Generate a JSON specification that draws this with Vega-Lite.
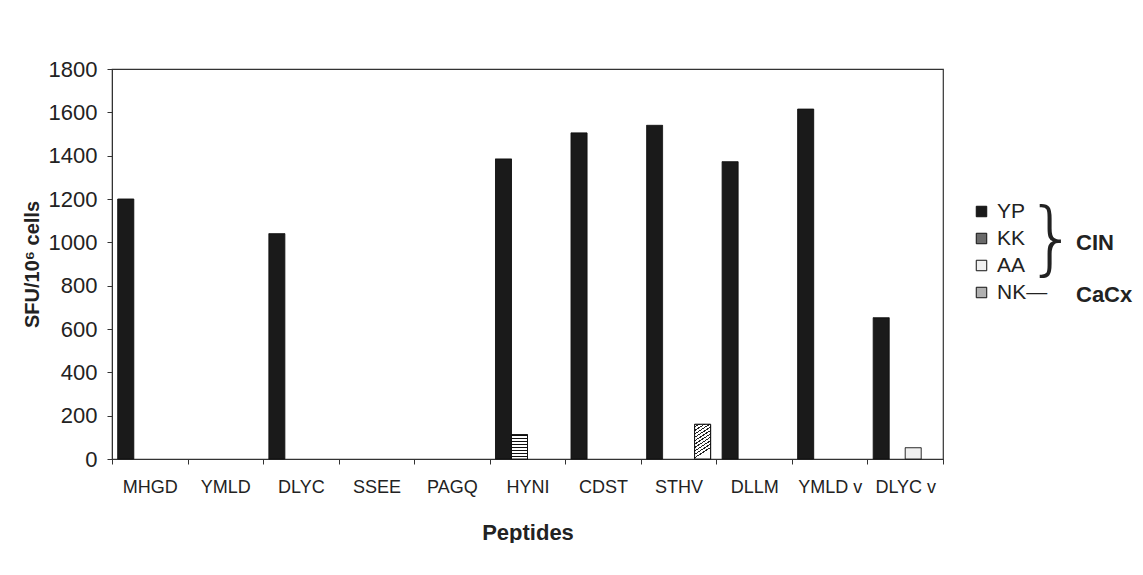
{
  "$schema": "https://vega.github.io/schema/vega-lite/v6.json",
  "width": 831,
  "height": 390,
  "padding": {"left": 22, "top": 58, "right": 0, "bottom": 0},
  "autosize": {"type": "pad"},
  "background": "white",
  "config": {
    "font": "Liberation Sans",
    "view": {"stroke": "#333", "strokeWidth": 1.2},
    "axis": {"domainColor": "#333", "tickColor": "#333", "labelColor": "#222", "titleColor": "#222", "grid": false}
  },
  "data": {
    "values": [
      {"peptide": "MHGD", "series": "YP", "group": "CIN", "sfu": 1200},
      {"peptide": "DLYC", "series": "YP", "group": "CIN", "sfu": 1040},
      {"peptide": "HYNI", "series": "YP", "group": "CIN", "sfu": 1385},
      {"peptide": "HYNI", "series": "KK", "group": "CIN", "sfu": 112},
      {"peptide": "CDST", "series": "YP", "group": "CIN", "sfu": 1505},
      {"peptide": "STHV", "series": "YP", "group": "CIN", "sfu": 1540},
      {"peptide": "STHV", "series": "NK", "group": "CaCx", "sfu": 160},
      {"peptide": "DLLM", "series": "YP", "group": "CIN", "sfu": 1372},
      {"peptide": "YMLD v", "series": "YP", "group": "CIN", "sfu": 1615},
      {"peptide": "DLYC v", "series": "YP", "group": "CIN", "sfu": 652},
      {"peptide": "DLYC v", "series": "AA", "group": "CIN", "sfu": 52}
    ]
  },
  "encoding": {
    "x": {
      "field": "peptide",
      "type": "nominal",
      "sort": ["MHGD", "YMLD", "DLYC", "SSEE", "PAGQ", "HYNI", "CDST", "STHV", "DLLM", "YMLD v", "DLYC v"],
      "scale": {"domain": ["MHGD", "YMLD", "DLYC", "SSEE", "PAGQ", "HYNI", "CDST", "STHV", "DLLM", "YMLD v", "DLYC v"], "paddingInner": 0, "paddingOuter": 0},
      "axis": {
        "title": "Peptides",
        "titleFontSize": 22,
        "titleFontWeight": "bold",
        "titlePadding": 26,
        "labelFontSize": 18,
        "labelAngle": 0,
        "labelPadding": 14,
        "tickSize": 5,
        "tickBand": "extent"
      }
    },
    "xOffset": {
      "field": "series",
      "type": "nominal",
      "scale": {"domain": ["YP", "KK", "AA", "NK"], "paddingInner": 0, "paddingOuter": 0.36}
    },
    "y": {
      "field": "sfu",
      "type": "quantitative",
      "scale": {"domain": [0, 1800], "nice": false},
      "axis": {
        "title": "SFU/10⁶ cells",
        "titleFontSize": 20,
        "titleFontWeight": "bold",
        "titlePadding": 6,
        "labelFontSize": 22,
        "labelPadding": 10,
        "tickSize": 5,
        "format": "d",
        "values": [0, 200, 400, 600, 800, 1000, 1200, 1400, 1600, 1800]
      }
    }
  },
  "layer": [
    {
      "mark": {"type": "bar", "stroke": "#111", "strokeWidth": 1},
      "encoding": {
        "color": {
          "field": "series",
          "type": "nominal",
          "scale": {"domain": ["YP", "KK", "AA", "NK"], "range": ["#1a1a1a", "#6a6a6a", "#f0f0f0", "#b0b0b0"]},
          "legend": {
            "orient": "none",
            "legendX": 859,
            "legendY": 132,
            "title": "}",
            "titleOrient": "right",
            "titleAngle": 0,
            "titleFontSize": 81,
            "titleFontWeight": 200,
            "titleFont": "'DejaVu Sans ExtraLight', 'DejaVu Sans Light', 'DejaVu Sans'",
            "titleColor": "#222",
            "titleAnchor": "start",
            "titleBaseline": "top",
            "titlePadding": -21,
            "labelFontSize": 21,
            "labelColor": "#222",
            "labelExpr": "datum.label == 'NK' ? 'NK—' : datum.label",
            "symbolType": "square",
            "symbolSize": 110,
            "symbolStrokeColor": "#111",
            "symbolStrokeWidth": 1,
            "rowPadding": 5,
            "labelOffset": 5
          }
        },
        "strokeDash": {
          "field": "group",
          "type": "nominal",
          "scale": {"domain": ["CIN", "CaCx"], "range": [[1, 0], [1, 0]]},
          "legend": {
            "orient": "none",
            "legendX": 942,
            "legendY": 163,
            "title": null,
            "labelFontSize": 22,
            "labelFontWeight": "bold",
            "labelColor": "#222",
            "symbolOpacity": 0,
            "symbolSize": 1,
            "rowPadding": 30,
            "labelOffset": 0
          }
        }
      }
    },
    {
      "transform": [{"filter": "datum.series == 'KK'"}],
      "mark": {
        "type": "bar",
        "stroke": "#111",
        "strokeWidth": 1,
        "fill": {
          "gradient": "linear", "x1": 0, "y1": 0, "x2": 0, "y2": 1,
          "stops": [
            {"offset": 0, "color": "#111"}, {"offset": 0.0625, "color": "#111"},
            {"offset": 0.0625, "color": "#fff"}, {"offset": 0.125, "color": "#fff"},
            {"offset": 0.125, "color": "#111"}, {"offset": 0.1875, "color": "#111"},
            {"offset": 0.1875, "color": "#fff"}, {"offset": 0.25, "color": "#fff"},
            {"offset": 0.25, "color": "#111"}, {"offset": 0.3125, "color": "#111"},
            {"offset": 0.3125, "color": "#fff"}, {"offset": 0.375, "color": "#fff"},
            {"offset": 0.375, "color": "#111"}, {"offset": 0.4375, "color": "#111"},
            {"offset": 0.4375, "color": "#fff"}, {"offset": 0.5, "color": "#fff"},
            {"offset": 0.5, "color": "#111"}, {"offset": 0.5625, "color": "#111"},
            {"offset": 0.5625, "color": "#fff"}, {"offset": 0.625, "color": "#fff"},
            {"offset": 0.625, "color": "#111"}, {"offset": 0.6875, "color": "#111"},
            {"offset": 0.6875, "color": "#fff"}, {"offset": 0.75, "color": "#fff"},
            {"offset": 0.75, "color": "#111"}, {"offset": 0.8125, "color": "#111"},
            {"offset": 0.8125, "color": "#fff"}, {"offset": 0.875, "color": "#fff"},
            {"offset": 0.875, "color": "#111"}, {"offset": 0.9375, "color": "#111"},
            {"offset": 0.9375, "color": "#fff"}, {"offset": 1, "color": "#fff"}
          ]
        }
      }
    },
    {
      "transform": [{"filter": "datum.series == 'NK'"}],
      "mark": {
        "type": "bar",
        "stroke": "#111",
        "strokeWidth": 1,
        "fill": {
          "gradient": "linear", "x1": 0, "y1": 0, "x2": 0.3, "y2": 1,
          "stops": [
            {"offset": 0, "color": "#fff"}, {"offset": 0.06, "color": "#fff"},
            {"offset": 0.06, "color": "#222"}, {"offset": 0.09, "color": "#222"},
            {"offset": 0.09, "color": "#fff"}, {"offset": 0.15, "color": "#fff"},
            {"offset": 0.15, "color": "#222"}, {"offset": 0.18, "color": "#222"},
            {"offset": 0.18, "color": "#fff"}, {"offset": 0.24, "color": "#fff"},
            {"offset": 0.24, "color": "#222"}, {"offset": 0.27, "color": "#222"},
            {"offset": 0.27, "color": "#fff"}, {"offset": 0.33, "color": "#fff"},
            {"offset": 0.33, "color": "#222"}, {"offset": 0.36, "color": "#222"},
            {"offset": 0.36, "color": "#fff"}, {"offset": 0.42, "color": "#fff"},
            {"offset": 0.42, "color": "#222"}, {"offset": 0.45, "color": "#222"},
            {"offset": 0.45, "color": "#fff"}, {"offset": 0.51, "color": "#fff"},
            {"offset": 0.51, "color": "#222"}, {"offset": 0.54, "color": "#222"},
            {"offset": 0.54, "color": "#fff"}, {"offset": 0.6, "color": "#fff"},
            {"offset": 0.6, "color": "#222"}, {"offset": 0.63, "color": "#222"},
            {"offset": 0.63, "color": "#fff"}, {"offset": 0.69, "color": "#fff"},
            {"offset": 0.69, "color": "#222"}, {"offset": 0.72, "color": "#222"},
            {"offset": 0.72, "color": "#fff"}, {"offset": 0.78, "color": "#fff"},
            {"offset": 0.78, "color": "#222"}, {"offset": 0.81, "color": "#222"},
            {"offset": 0.81, "color": "#fff"}, {"offset": 0.87, "color": "#fff"},
            {"offset": 0.87, "color": "#222"}, {"offset": 0.9, "color": "#222"},
            {"offset": 0.9, "color": "#fff"}, {"offset": 1, "color": "#fff"}
          ]
        }
      }
    }
  ]
}
